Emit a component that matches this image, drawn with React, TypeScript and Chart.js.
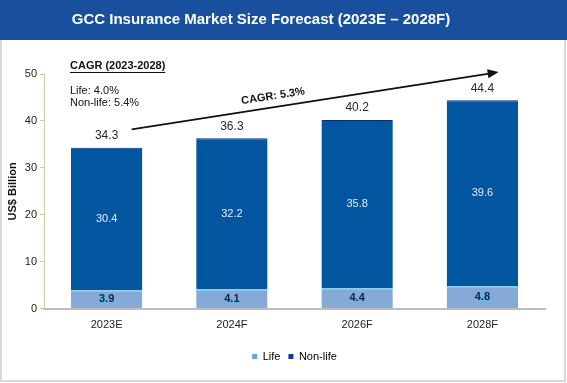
import React, { useEffect, useRef } from "react";
import { Chart, registerables } from "chart.js";

Chart.register(...registerables);

const categories = ["2023E", "2024F", "2026F", "2028F"];
const lifeValues = [3.9, 4.1, 4.4, 4.8];
const nonLifeValues = [30.4, 32.2, 35.8, 39.6];
const totalValues = [34.3, 36.3, 40.2, 44.4];
const yMin = 0;
const yMax = 50;
const yStep = 10;
const titleText = "GCC Insurance Market Size Forecast (2023E \u2013 2028F)";
const yAxisTitle = "US$ Billion";
const cagrHeading = "CAGR (2023-2028)";
const cagrLines = ["Life: 4.0%", "Non-life: 5.4%"];
const overallCagr = "CAGR: 5.3%";
// arrow annotation endpoints in data space: [category index, value]
const arrowFrom = [0.2, 38.2];
const arrowTo = [3.13, 50.4];

const FONT = '"Liberation Sans", Arial, sans-serif';
const LIFE = "#86aad8";
const LIFE_EDGE = "#3db3e3";
const NONLIFE = "#02559f";
const NONLIFE_EDGE = "#0a2f78";

const framePlugin = {
  id: "frame",
  beforeDraw(chart: any) {
    const { ctx, width, height } = chart;
    ctx.save();
    ctx.fillStyle = "#ffffff";
    ctx.fillRect(0, 0, width, height);
    ctx.fillStyle = "#19509e";
    ctx.fillRect(0, 0, width, 40);
    ctx.strokeStyle = "#d8d8d8";
    ctx.lineWidth = 2;
    ctx.beginPath();
    ctx.moveTo(1, 40);
    ctx.lineTo(1, height - 2);
    ctx.lineTo(width - 2, height - 2);
    ctx.lineTo(width - 2, 40);
    ctx.stroke();
    // title
    ctx.fillStyle = "#ffffff";
    ctx.font = `bold 15px ${FONT}`;
    ctx.textAlign = "center";
    ctx.textBaseline = "middle";
    ctx.fillText(titleText, 261, 20);
    ctx.restore();
  },
};

const labelsPlugin = {
  id: "valueLabels",
  afterDatasetsDraw(chart: any) {
    const { ctx } = chart;
    ctx.save();
    ctx.textAlign = "center";
    ctx.textBaseline = "middle";
    const lifeMeta = chart.getDatasetMeta(0);
    const nonMeta = chart.getDatasetMeta(1);
    lifeMeta.data.forEach((bar: any, i: number) => {
      const y = (bar.y + bar.base) / 2;
      ctx.font = `bold 11px ${FONT}`;
      ctx.fillStyle = "#3fc6ee";
      ctx.fillText(lifeValues[i].toFixed(1), bar.x + 0.7, y + 0.7);
      ctx.fillStyle = "#1d1d4a";
      ctx.fillText(lifeValues[i].toFixed(1), bar.x, y);
    });
    nonMeta.data.forEach((bar: any, i: number) => {
      const y = (bar.y + bar.base) / 2;
      ctx.font = `11px ${FONT}`;
      ctx.fillStyle = "#e8ecff";
      ctx.fillText(nonLifeValues[i].toFixed(1), bar.x, y);
      ctx.font = `12px ${FONT}`;
      ctx.fillStyle = "#2a2a2a";
      ctx.fillText(totalValues[i].toFixed(1), bar.x, bar.y - 12);
    });
    ctx.restore();
  },
};

const annotationPlugin = {
  id: "cagrNotes",
  afterDraw(chart: any) {
    const { ctx, chartArea, scales } = chart;
    const x = scales.x;
    const y = scales.y;
    ctx.save();
    // top-left CAGR block
    const left = chartArea.left + 26;
    ctx.fillStyle = "#111";
    ctx.textAlign = "left";
    ctx.textBaseline = "middle";
    ctx.font = `bold 11px ${FONT}`;
    const hy = chartArea.top - 8;
    ctx.fillText(cagrHeading, left, hy);
    const w = ctx.measureText(cagrHeading).width;
    ctx.strokeStyle = "#111";
    ctx.lineWidth = 1;
    ctx.beginPath();
    ctx.moveTo(left, hy + 6.5);
    ctx.lineTo(left + w, hy + 6.5);
    ctx.stroke();
    ctx.font = `11px ${FONT}`;
    cagrLines.forEach((t, i) => ctx.fillText(t, left, chartArea.top + 17 + i * 12));

    // arrow
    const x1 = x.getPixelForValue(arrowFrom[0]);
    const y1 = y.getPixelForValue(arrowFrom[1]);
    const x2 = x.getPixelForValue(arrowTo[0]);
    const y2 = y.getPixelForValue(arrowTo[1]);
    const ang = Math.atan2(y2 - y1, x2 - x1);
    ctx.strokeStyle = "#111";
    ctx.lineWidth = 1.6;
    ctx.beginPath();
    ctx.moveTo(x1, y1);
    ctx.lineTo(x2 - 8 * Math.cos(ang), y2 - 8 * Math.sin(ang));
    ctx.stroke();
    ctx.fillStyle = "#111";
    ctx.beginPath();
    ctx.moveTo(x2, y2);
    ctx.lineTo(x2 - 11 * Math.cos(ang) + 4.5 * Math.sin(ang), y2 - 11 * Math.sin(ang) - 4.5 * Math.cos(ang));
    ctx.lineTo(x2 - 11 * Math.cos(ang) - 4.5 * Math.sin(ang), y2 - 11 * Math.sin(ang) + 4.5 * Math.cos(ang));
    ctx.closePath();
    ctx.fill();

    // rotated label
    const t = 0.39;
    const mx = x1 + (x2 - x1) * t;
    const my = y1 + (y2 - y1) * t;
    ctx.translate(mx + 11 * Math.sin(ang), my - 11 * Math.cos(ang));
    ctx.rotate(ang);
    ctx.textAlign = "center";
    ctx.font = `bold 11px ${FONT}`;
    ctx.fillText(overallCagr, 0, 0);
    ctx.restore();
  },
};

export default function App() {
  const ref = useRef<HTMLCanvasElement>(null);
  useEffect(() => {
    if (!ref.current) return;
    const chart = new Chart(ref.current, {
      type: "bar",
      data: {
        labels: categories,
        datasets: [
          {
            label: "Life",
            data: lifeValues,
            backgroundColor: LIFE,
            borderColor: LIFE_EDGE,
            borderWidth: { top: 1, left: 0, right: 0, bottom: 0 },
            borderSkipped: false,
            categoryPercentage: 1,
            barPercentage: 0.57,
          },
          {
            label: "Non-life",
            data: nonLifeValues,
            backgroundColor: NONLIFE,
            borderColor: NONLIFE_EDGE,
            borderWidth: { top: 1, left: 0, right: 0, bottom: 0 },
            borderSkipped: false,
            categoryPercentage: 1,
            barPercentage: 0.57,
          },
        ],
      },
      options: {
        animation: false,
        responsive: false,
        maintainAspectRatio: false,
        layout: { padding: { left: 0, right: 22, top: 74, bottom: 11 } },
        plugins: {
          title: { display: false },
          legend: {
            position: "bottom",
            fullSize: false,
            labels: {
              color: "#222",
              font: { family: FONT, size: 11 },
              boxWidth: 5,
              boxHeight: 5,
              padding: 8,
              generateLabels: (c: any) =>
                c.data.datasets.map((d: any, i: number) => ({
                  text: d.label,
                  fillStyle: i === 0 ? "#62a8de" : "#0a3c96",
                  strokeStyle: i === 0 ? "#62a8de" : "#0a3c96",
                  lineWidth: 0,
                  datasetIndex: i,
                  hidden: false,
                })),
            },
          },
          tooltip: { enabled: false },
        },
        scales: {
          x: {
            stacked: true,
            grid: { display: false },
            border: { display: true, color: "#bdbdbd", width: 2 },
            ticks: { color: "#222", font: { family: FONT, size: 11 }, padding: 2 },
            afterFit: (s: any) => {
              s.height = s.height + 9;
            },
          },
          y: {
            stacked: true,
            min: yMin,
            max: yMax,
            afterFit: (s: any) => {
              s.width = 44;
            },
            grid: { display: true, drawOnChartArea: false, drawTicks: true, tickLength: 4, color: "#cfcaa4" },
            border: { display: true, color: "#cfcaa4", width: 1 },
            ticks: { stepSize: yStep, color: "#222", font: { family: FONT, size: 11 }, padding: 3 },
            title: {
              display: true,
              text: yAxisTitle,
              color: "#111",
              font: { family: FONT, size: 11, weight: "bold" },
              padding: { top: 6, bottom: 0 },
            },
          },
        },
      },
      plugins: [framePlugin, labelsPlugin, annotationPlugin],
    });
    return () => chart.destroy();
  }, []);
  return (
    <div style={{ position: "fixed", left: 0, top: 0, width: 567, height: 383 }}>
      <canvas ref={ref} width={567} height={383} style={{ display: "block", width: 567, height: 383 }} />
    </div>
  );
}
